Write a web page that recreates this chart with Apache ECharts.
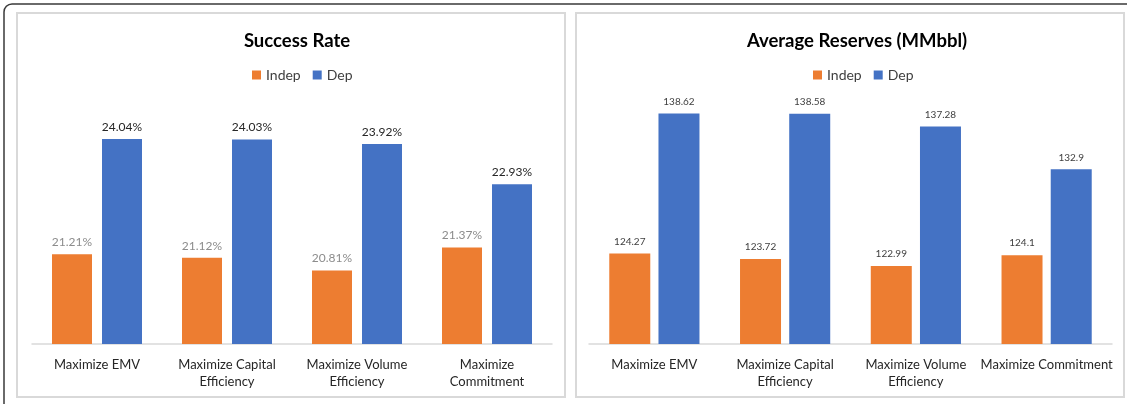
<!DOCTYPE html>
<html>
<head>
<meta charset="utf-8">
<script src="https://cdn.jsdelivr.net/npm/echarts@6/dist/echarts.min.js"></script>
<style>
  html, body { margin: 0; padding: 0; background: #ffffff; overflow: hidden; }
  #chart { width: 1127px; height: 404px; }
</style>
</head>
<body>
<div id="chart"></div>
<script>
// Strategy categories for each panel
const rateCategories = ['Maximize EMV', 'Maximize Capital\nEfficiency', 'Maximize Volume\nEfficiency', 'Maximize\nCommitment'];
const reserveCategories = ['Maximize EMV', 'Maximize Capital\nEfficiency', 'Maximize Volume\nEfficiency', 'Maximize Commitment'];

// Success rate (%)
const rateIndep = [21.21, 21.12, 20.81, 21.37];
const rateDep = [24.04, 24.03, 23.92, 22.93];

// Average reserves (MMbbl)
const reserveIndep = [124.27, 123.72, 122.99, 124.1];
const reserveDep = [138.62, 138.58, 137.28, 132.9];

const seriesNames = ['Indep', 'Dep'];
const orange = '#ED7D31';
const blue = '#4472C4';
const FONT = 'Lato, "Open Sans", sans-serif';

const chart = echarts.init(document.getElementById('chart'), null, { renderer: 'canvas' });

const xAxisBase = {
  type: 'category',
  axisLine: { lineStyle: { color: '#d9d9d9', width: 1.5 } },
  axisTick: { show: false },
  axisLabel: { color: '#262626', fontSize: 13, fontFamily: FONT, lineHeight: 17, margin: 12, interval: 0 }
};

const titleStyle = { fontSize: 18.5, fontWeight: 'bold', color: '#000000', fontFamily: FONT };
const legendStyle = { color: '#404040', fontSize: 14, fontFamily: FONT };

chart.setOption({
  animation: false,
  textStyle: { fontFamily: FONT },
  graphic: [
    { type: 'rect', z: -1, shape: { x: 4, y: 4, width: 1200, height: 520, r: 8 },
      style: { fill: 'none', stroke: '#3a3a3a', lineWidth: 1.5 } },
    { type: 'rect', z: -1, shape: { x: 17, y: 13, width: 548, height: 384 },
      style: { fill: '#ffffff', stroke: '#d9d9d9', lineWidth: 2 } },
    { type: 'rect', z: -1, shape: { x: 576, y: 13, width: 548, height: 384 },
      style: { fill: '#ffffff', stroke: '#d9d9d9', lineWidth: 2 } }
  ],
  title: [
    { text: 'Success Rate', left: 292, top: 27, textAlign: 'center', textStyle: titleStyle },
    { text: 'Average Reserves (MMbbl)', left: 852, top: 27, textAlign: 'center', textStyle: titleStyle }
  ],
  legend: [
    { data: seriesNames, left: 247, top: 63, icon: 'rect', itemWidth: 9, itemHeight: 9, itemGap: 12,
      textStyle: legendStyle },
    { data: seriesNames, left: 808, top: 63, icon: 'rect', itemWidth: 9, itemHeight: 9, itemGap: 12,
      textStyle: legendStyle }
  ],
  grid: [
    { left: 32, right: 575, top: 100, bottom: 60 },
    { left: 589, right: 15, top: 100, bottom: 60 }
  ],
  xAxis: [
    Object.assign({}, xAxisBase, { gridIndex: 0, data: rateCategories }),
    Object.assign({}, xAxisBase, { gridIndex: 1, data: reserveCategories })
  ],
  yAxis: [
    { type: 'value', gridIndex: 0, min: 19, max: 25, show: false, splitLine: { show: false } },
    { type: 'value', gridIndex: 1, min: 115, max: 140, show: false, splitLine: { show: false } }
  ],
  series: [
    { name: 'Indep', type: 'bar', xAxisIndex: 0, yAxisIndex: 0, data: rateIndep,
      barWidth: 40, barGap: '25%', itemStyle: { color: orange },
      label: { show: true, position: 'top', distance: 6, color: '#8c8c8c', fontSize: 12, fontFamily: FONT,
        formatter: p => p.value.toFixed(2) + '%' } },
    { name: 'Dep', type: 'bar', xAxisIndex: 0, yAxisIndex: 0, data: rateDep,
      barWidth: 40, barGap: '25%', itemStyle: { color: blue },
      label: { show: true, position: 'top', distance: 6, color: '#262626', fontSize: 12, fontFamily: FONT,
        formatter: p => p.value.toFixed(2) + '%' } },
    { name: 'Indep', type: 'bar', xAxisIndex: 1, yAxisIndex: 1, data: reserveIndep,
      barWidth: 41, barGap: '20%', itemStyle: { color: orange },
      label: { show: true, position: 'top', distance: 7, color: '#404040', fontSize: 10, fontFamily: FONT } },
    { name: 'Dep', type: 'bar', xAxisIndex: 1, yAxisIndex: 1, data: reserveDep,
      barWidth: 41, barGap: '20%', itemStyle: { color: blue },
      label: { show: true, position: 'top', distance: 7, color: '#404040', fontSize: 10, fontFamily: FONT } }
  ]
});
</script>
</body>
</html>
